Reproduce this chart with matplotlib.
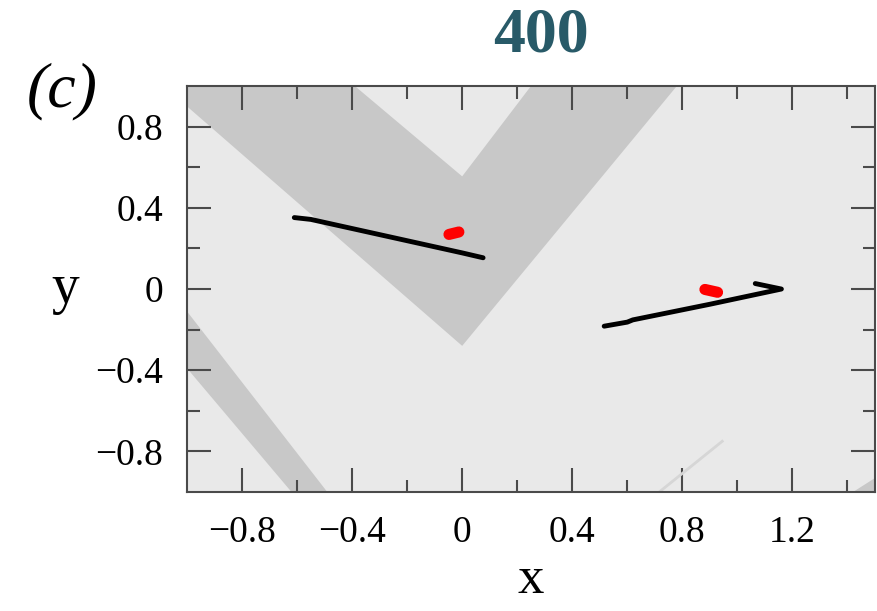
import matplotlib
matplotlib.use("Agg")
import matplotlib.pyplot as plt

# ---- data ----
# shaded regions (polygon corners, data units)
v_band_x = [-1.0, -1.0, 0.0, 0.78, 0.25, 0.0, -0.39]
v_band_y = [1.0, 0.90, -0.28, 1.0, 1.0, 0.555, 1.0]
low_band_x = [-1.0, -0.49, -0.62, -1.0]
low_band_y = [-0.11, -1.0, -1.0, -0.39]
corner_x = [1.42, 1.5, 1.5]
corner_y = [-1.0, -1.0, -0.93]
sliver_x = [0.716, 0.945]
sliver_y = [-1.0, -0.75]

# trajectories
path1_x = [-0.61, -0.55, -0.30, 0.0, 0.076]
path1_y = [0.352, 0.343, 0.268, 0.178, 0.154]
path2_x = [0.516, 0.60, 0.62, 0.90, 1.16, 1.065]
path2_y = [-0.183, -0.163, -0.152, -0.075, 0.0, 0.027]
red1_x = [-0.048, -0.012]
red1_y = [0.269, 0.281]
red2_x = [0.882, 0.928]
red2_y = [-0.002, -0.016]

xticks = [-0.8, -0.4, 0, 0.4, 0.8, 1.2]
xtick_labels = ['\u22120.8', '\u22120.4', '0', '0.4', '0.8', '1.2']
yticks = [-0.8, -0.4, 0, 0.4, 0.8]
ytick_labels = ['\u22120.8', '\u22120.4', '0', '0.4', '0.8']
xminor = [-0.6, -0.2, 0.2, 0.6, 1.0, 1.4]
yminor = [-0.6, -0.2, 0.2, 0.6]

plt.rcParams['font.family'] = ['Liberation Serif', 'DejaVu Serif']

fig = plt.figure(figsize=(8.77, 6.11), dpi=100)
ax = fig.add_axes([0.2132, 0.1947, 0.7845, 0.6645])

light = '#e9e9e9'
dark = '#c8c8c8'
ax.set_facecolor(light)
ax.fill(v_band_x, v_band_y, color=dark, lw=0)
ax.fill(low_band_x, low_band_y, color=dark, lw=0)
ax.fill(corner_x, corner_y, color=dark, lw=0)
ax.plot(sliver_x, sliver_y, color='#d6d6d6', lw=2)

ax.plot(path1_x, path1_y, color='black', lw=3.5, solid_capstyle='round', solid_joinstyle='round')
ax.plot(path2_x, path2_y, color='black', lw=3.5, solid_capstyle='round', solid_joinstyle='round')
ax.plot(red1_x, red1_y, color='#ff0000', lw=8, solid_capstyle='round')
ax.plot(red2_x, red2_y, color='#ff0000', lw=8, solid_capstyle='round')

ax.set_xlim(-1.0, 1.5)
ax.set_ylim(-1.0, 1.0)
ax.set_xticks(xticks)
ax.set_xticklabels(xtick_labels)
ax.set_yticks(yticks)
ax.set_yticklabels(ytick_labels)
ax.set_xticks(xminor, minor=True)
ax.set_yticks(yminor, minor=True)
ax.tick_params(which='both', direction='in', top=True, right=True,
               color='#4a4a4a', width=1.5)
ax.tick_params(which='major', length=17, labelsize=27, pad=17)
ax.tick_params(which='minor', length=9)
for s in ax.spines.values():
    s.set_color('#4a4a4a')
    s.set_linewidth(1.5)

ax.set_xlabel('x', fontsize=38, labelpad=4)
ax.set_ylabel('y', fontsize=40, rotation=0, labelpad=22, va='center')

fig.text(541 / 877, 1 - 36 / 611, '400', fontsize=46, fontweight='bold',
         color='#285a68', ha='center', va='center')
fig.text(27 / 877, 1 - 91 / 611, '(c)', fontsize=46, style='italic',
         ha='left', va='center')

fig.savefig('out.png', dpi=100)
